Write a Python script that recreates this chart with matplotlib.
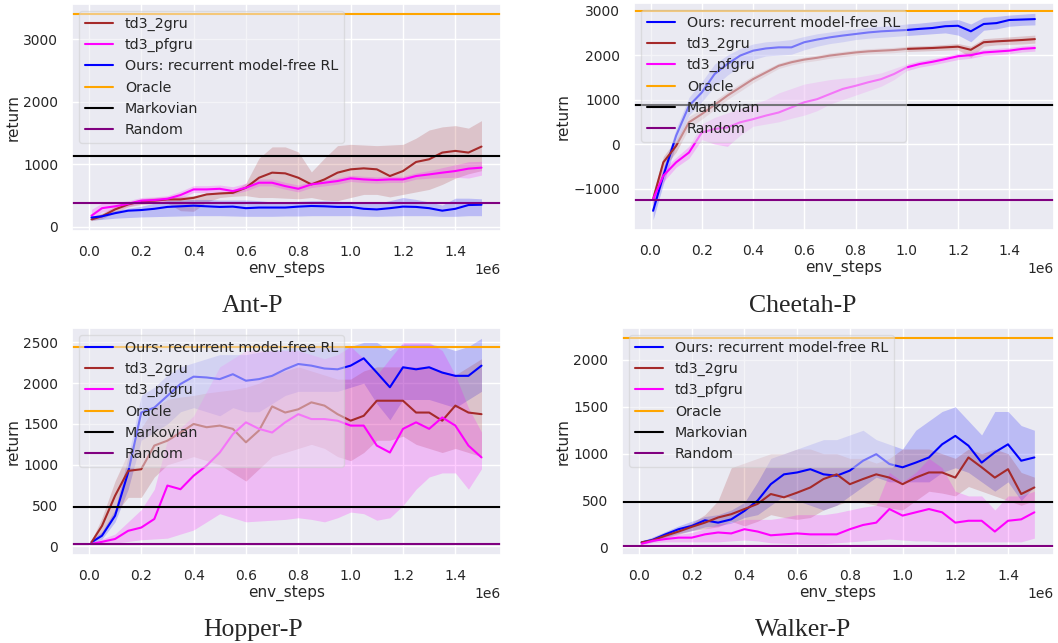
import matplotlib
matplotlib.use("Agg")
import matplotlib.pyplot as plt
from matplotlib.ticker import MultipleLocator
import seaborn as sns
import numpy as np

# ---------------- data ----------------
steps = [0.01, 0.05, 0.10, 0.15, 0.20, 0.25, 0.30, 0.35, 0.40, 0.45, 0.50, 0.55, 0.60, 0.65, 0.70,
         0.75, 0.80, 0.85, 0.90, 0.95, 1.00, 1.05, 1.10, 1.15, 1.20, 1.25, 1.30, 1.35, 1.40, 1.45, 1.50]

# Ant-P
ant_2gru = [120, 170, 280, 360, 410, 420, 440, 440, 465, 520, 535, 545, 627, 787, 868, 857, 787, 680, 760, 868, 921, 937, 921, 814, 894, 1039, 1082, 1189, 1216, 1189, 1285]
ant_2gru_hi = [150, 220, 330, 400, 450, 470, 480, 490, 500, 540, 560, 580, 700, 1100, 1280, 1280, 1200, 880, 1100, 1300, 1320, 1310, 1300, 1310, 1320, 1420, 1550, 1600, 1620, 1580, 1700]
ant_2gru_lo = [100, 130, 230, 320, 360, 380, 380, 260, 250, 400, 470, 490, 500, 470, 470, 460, 450, 470, 430, 420, 470, 520, 520, 480, 520, 560, 600, 680, 780, 850, 900]
ant_pf = [180, 300, 330, 370, 420, 430, 450, 510, 600, 600, 610, 573, 627, 707, 707, 653, 610, 680, 707, 734, 777, 760, 750, 760, 760, 814, 840, 868, 894, 932, 948]
ant_pf_hi = [280, 380, 390, 420, 470, 480, 500, 570, 660, 660, 670, 643, 697, 767, 767, 713, 670, 730, 757, 784, 827, 810, 800, 810, 810, 864, 900, 948, 994, 1042, 1048]
ant_pf_lo = [120, 240, 280, 330, 380, 390, 410, 460, 550, 550, 560, 523, 577, 657, 657, 603, 560, 630, 657, 684, 727, 710, 700, 710, 710, 764, 780, 788, 794, 782, 828]
ant_ours = [150, 170, 220, 260, 270, 290, 320, 330, 340, 330, 320, 325, 300, 310, 310, 310, 325, 335, 330, 320, 320, 290, 280, 300, 325, 320, 300, 260, 290, 350, 355]
ant_ours_hi = [170, 210, 260, 300, 330, 380, 420, 430, 440, 440, 430, 430, 430, 420, 400, 400, 410, 420, 420, 410, 400, 390, 380, 420, 470, 440, 400, 350, 460, 460, 450]
ant_ours_lo = [110, 120, 140, 150, 160, 165, 170, 175, 180, 180, 180, 175, 170, 170, 170, 175, 175, 180, 180, 180, 180, 175, 170, 175, 180, 180, 180, 170, 170, 180, 180]
ant_ref = [3400, 1140, 380]  # Oracle, Markovian, Random

# Cheetah-P
ch_ours = [-1500, -710, 190, 860, 1160, 1575, 1800, 1990, 2100, 2150, 2175, 2175, 2290, 2350, 2400, 2440, 2475, 2510, 2535, 2550, 2565, 2590, 2610, 2650, 2660, 2535, 2700, 2720, 2790, 2800, 2810]
ch_ours_hi = [-1300, -550, 350, 1050, 1400, 1800, 2000, 2150, 2250, 2300, 2320, 2350, 2420, 2480, 2520, 2560, 2590, 2620, 2650, 2670, 2700, 2720, 2750, 2780, 2800, 2700, 2850, 2870, 2900, 2920, 2940]
ch_ours_lo = [-1700, -900, 0, 650, 950, 1300, 1550, 1750, 1900, 1980, 2000, 2020, 2120, 2200, 2260, 2300, 2350, 2380, 2400, 2420, 2440, 2460, 2480, 2500, 2450, 2300, 2560, 2590, 2650, 2670, 2680]
ch_2gru = [-1240, -410, -40, 490, 675, 880, 1090, 1275, 1460, 1610, 1760, 1840, 1900, 1940, 1990, 2025, 2060, 2085, 2100, 2115, 2140, 2150, 2160, 2175, 2190, 2120, 2290, 2310, 2325, 2340, 2360]
ch_2gru_hi = [-1100, -280, 100, 620, 790, 980, 1180, 1360, 1540, 1680, 1820, 1900, 1960, 2000, 2050, 2085, 2120, 2145, 2160, 2175, 2200, 2210, 2220, 2240, 2260, 2200, 2370, 2390, 2410, 2430, 2450]
ch_2gru_lo = [-1380, -540, -180, 360, 560, 780, 1000, 1190, 1380, 1540, 1700, 1780, 1840, 1880, 1930, 1965, 2000, 2025, 2040, 2055, 2080, 2090, 2100, 2110, 2120, 1950, 2200, 2230, 2240, 2250, 2270]
ch_pf = [-1240, -710, -410, -190, 260, 340, 375, 490, 560, 640, 710, 825, 940, 1010, 1125, 1240, 1310, 1390, 1460, 1575, 1725, 1800, 1850, 1910, 1975, 2000, 2060, 2080, 2100, 2140, 2160]
ch_pf_hi = [-1100, -550, -300, -50, 450, 600, 700, 800, 900, 1000, 1150, 1250, 1350, 1400, 1450, 1480, 1500, 1550, 1600, 1700, 1800, 1870, 1920, 1980, 2040, 2070, 2130, 2150, 2170, 2210, 2230]
ch_pf_lo = [-1400, -850, -520, -320, 100, 0, -50, 200, 400, 450, 500, 580, 650, 750, 900, 1000, 1100, 1200, 1300, 1450, 1650, 1730, 1780, 1840, 1900, 1930, 1990, 2010, 2030, 2070, 2090]
ch_ref = [3000, 875, -1250]

# Hopper-P
hop_ours = [50, 130, 375, 905, 1640, 1700, 1845, 1990, 2080, 2070, 2050, 2110, 2030, 2050, 2090, 2170, 2235, 2215, 2180, 2170, 2215, 2305, 2130, 1950, 2195, 2170, 2195, 2130, 2090, 2090, 2215]
hop_ours_hi = [80, 180, 450, 1100, 1850, 1950, 2100, 2200, 2250, 2300, 2350, 2350, 2350, 2380, 2400, 2420, 2450, 2450, 2450, 2450, 2450, 2500, 2500, 2400, 2480, 2480, 2480, 2450, 2400, 2450, 2550]
hop_ours_lo = [30, 90, 300, 700, 1300, 1400, 1500, 1650, 1700, 1650, 1600, 1700, 1650, 1650, 1750, 1850, 1900, 1900, 1900, 1900, 1950, 2000, 1750, 1550, 1800, 1800, 1800, 1750, 1700, 1800, 1900]
hop_2gru = [50, 250, 620, 925, 945, 1235, 1295, 1395, 1500, 1460, 1480, 1440, 1275, 1420, 1715, 1640, 1680, 1765, 1725, 1620, 1540, 1600, 1785, 1785, 1785, 1640, 1640, 1540, 1725, 1640, 1620]
hop_2gru_hi = [70, 350, 800, 1150, 1450, 1700, 1800, 1830, 1850, 1880, 1900, 1920, 1950, 2000, 2100, 2150, 2200, 2150, 2100, 2050, 2050, 2150, 2200, 2200, 2200, 2200, 2200, 2150, 2100, 2200, 2300]
hop_2gru_lo = [30, 150, 400, 600, 600, 850, 1000, 1050, 1100, 1050, 1000, 900, 800, 950, 1100, 1150, 1200, 1250, 1200, 1100, 1050, 1150, 1300, 1300, 1350, 1250, 1200, 1150, 1200, 1150, 1100]
hop_pf = [30, 55, 90, 190, 230, 335, 745, 700, 865, 990, 1150, 1375, 1520, 1440, 1395, 1520, 1620, 1560, 1560, 1540, 1480, 1480, 1235, 1150, 1440, 1520, 1440, 1580, 1480, 1235, 1090]
hop_pf_hi = [40, 90, 150, 300, 450, 700, 1300, 1450, 1600, 1900, 2200, 2300, 2400, 2400, 2400, 2400, 2400, 2350, 2300, 2350, 2450, 2300, 2100, 2300, 2500, 2500, 2500, 2400, 2100, 1700, 1400]
hop_pf_lo = [20, 30, 40, 60, 80, 90, 100, 150, 200, 300, 400, 350, 300, 310, 320, 330, 350, 330, 300, 350, 420, 400, 320, 350, 500, 700, 850, 900, 900, 700, 950]
hop_ref = [2440, 485, 25]

# Walker-P
wal_ours = [55, 80, 140, 195, 230, 290, 265, 300, 390, 500, 675, 780, 800, 835, 780, 765, 820, 925, 995, 890, 855, 905, 960, 1100, 1190, 1085, 905, 1015, 1100, 925, 960]
wal_ours_hi = [70, 110, 170, 230, 280, 330, 350, 400, 480, 700, 950, 1000, 1050, 1100, 1150, 1150, 1200, 1250, 1150, 1100, 1050, 1250, 1350, 1450, 1500, 1350, 1200, 1450, 1450, 1300, 1250]
wal_ours_lo = [40, 60, 110, 150, 180, 220, 230, 260, 320, 350, 450, 550, 500, 450, 400, 450, 550, 650, 750, 700, 700, 700, 700, 800, 850, 800, 700, 600, 700, 500, 650]
wal_2gru = [55, 75, 125, 170, 220, 265, 320, 355, 410, 465, 570, 535, 585, 640, 730, 780, 675, 730, 780, 745, 675, 745, 800, 800, 745, 960, 855, 745, 835, 570, 640]
wal_2gru_hi = [65, 100, 150, 200, 260, 350, 500, 850, 900, 950, 1000, 1000, 1050, 1050, 1000, 1000, 950, 950, 900, 950, 1050, 1050, 1050, 1000, 950, 1050, 1000, 1050, 1000, 800, 750]
wal_2gru_lo = [40, 60, 100, 140, 180, 200, 220, 280, 230, 280, 350, 320, 300, 320, 400, 450, 500, 480, 450, 420, 400, 500, 600, 580, 550, 650, 600, 550, 500, 450, 500]
wal_pf = [40, 70, 90, 105, 105, 140, 160, 150, 195, 170, 130, 140, 150, 140, 140, 140, 195, 240, 265, 410, 340, 375, 410, 375, 265, 285, 285, 170, 285, 300, 375]
wal_pf_hi = [50, 90, 120, 140, 160, 200, 250, 270, 300, 300, 300, 320, 350, 350, 350, 370, 400, 430, 450, 800, 700, 800, 950, 850, 600, 550, 550, 400, 550, 550, 600]
wal_pf_lo = [30, 50, 60, 60, 60, 60, 60, 70, 80, 70, 50, 45, 40, 40, 40, 50, 60, 70, 80, 90, 80, 70, 70, 60, 60, 60, 60, 60, 60, 60, 100]
wal_ref = [2230, 480, 15]

labels = {"ours": "Ours: recurrent model-free RL", "2gru": "td3_2gru", "pf": "td3_pfgru"}
colors = {"ours": "#0000ff", "2gru": "#a52a2a", "pf": "#ff00ff"}
ref_names = ["Oracle", "Markovian", "Random"]
ref_colors = ["#ffa500", "#000000", "#800080"]

panels = [
    dict(title="Ant-P", order=["2gru", "pf", "ours"],
         series={"2gru": (ant_2gru, ant_2gru_lo, ant_2gru_hi), "pf": (ant_pf, ant_pf_lo, ant_pf_hi),
                 "ours": (ant_ours, ant_ours_lo, ant_ours_hi)}, ref=ant_ref, ystep=1000,
         box=(72, 4, 501, 231), cap=(253, 312)),
    dict(title="Cheetah-P", order=["ours", "2gru", "pf"],
         series={"ours": (ch_ours, ch_ours_lo, ch_ours_hi), "2gru": (ch_2gru, ch_2gru_lo, ch_2gru_hi),
                 "pf": (ch_pf, ch_pf_lo, ch_pf_hi)}, ref=ch_ref, ystep=1000,
         box=(634, 3, 1054, 230), cap=(803, 312)),
    dict(title="Hopper-P", order=["ours", "2gru", "pf"],
         series={"ours": (hop_ours, hop_ours_lo, hop_ours_hi), "2gru": (hop_2gru, hop_2gru_lo, hop_2gru_hi),
                 "pf": (hop_pf, hop_pf_lo, hop_pf_hi)}, ref=hop_ref, ystep=500,
         box=(72, 328, 501, 555), cap=(253, 636)),
    dict(title="Walker-P", order=["ours", "2gru", "pf"],
         series={"ours": (wal_ours, wal_ours_lo, wal_ours_hi), "2gru": (wal_2gru, wal_2gru_lo, wal_2gru_hi),
                 "pf": (wal_pf, wal_pf_lo, wal_pf_hi)}, ref=wal_ref, ystep=500,
         box=(622, 328, 1054, 555), cap=(803, 636)),
]

# ---------------- plot ----------------
sns.set_theme(style="darkgrid")
plt.rcParams["font.family"] = ["DejaVu Sans"]

W, H = 1058, 643
fig = plt.figure(figsize=(W / 100, H / 100), dpi=100)
x = np.array(steps) * 1e6

for p in panels:
    l, t, r, b = p["box"]
    ax = fig.add_axes([l / W, 1 - b / H, (r - l) / W, (b - t) / H])
    for key in p["order"]:
        m, lo, hi = p["series"][key]
        ax.fill_between(x, lo, hi, color=colors[key], alpha=0.2, linewidth=0)
        ax.plot(x, m, color=colors[key], lw=1.5, label=labels[key])
    for val, name, c in zip(p["ref"], ref_names, ref_colors):
        ax.axhline(val, color=c, lw=1.5, label=name)
    ax.yaxis.set_major_locator(MultipleLocator(p["ystep"]))
    ax.set_xlabel("env_steps", fontsize=11, labelpad=2)
    ax.set_ylabel("return", fontsize=11, labelpad=2)
    ax.tick_params(labelsize=10, pad=4)
    ax.xaxis.get_offset_text().set_fontsize(10)
    ax.legend(loc="upper left", fontsize=10.3, framealpha=0.5)
    cx, cy = p["cap"]
    fig.text(cx / W, 1 - cy / H, p["title"], ha="center", va="baseline",
             fontsize=18.5, family=["Liberation Serif", "DejaVu Serif"])

fig.savefig("out.png", dpi=100)
